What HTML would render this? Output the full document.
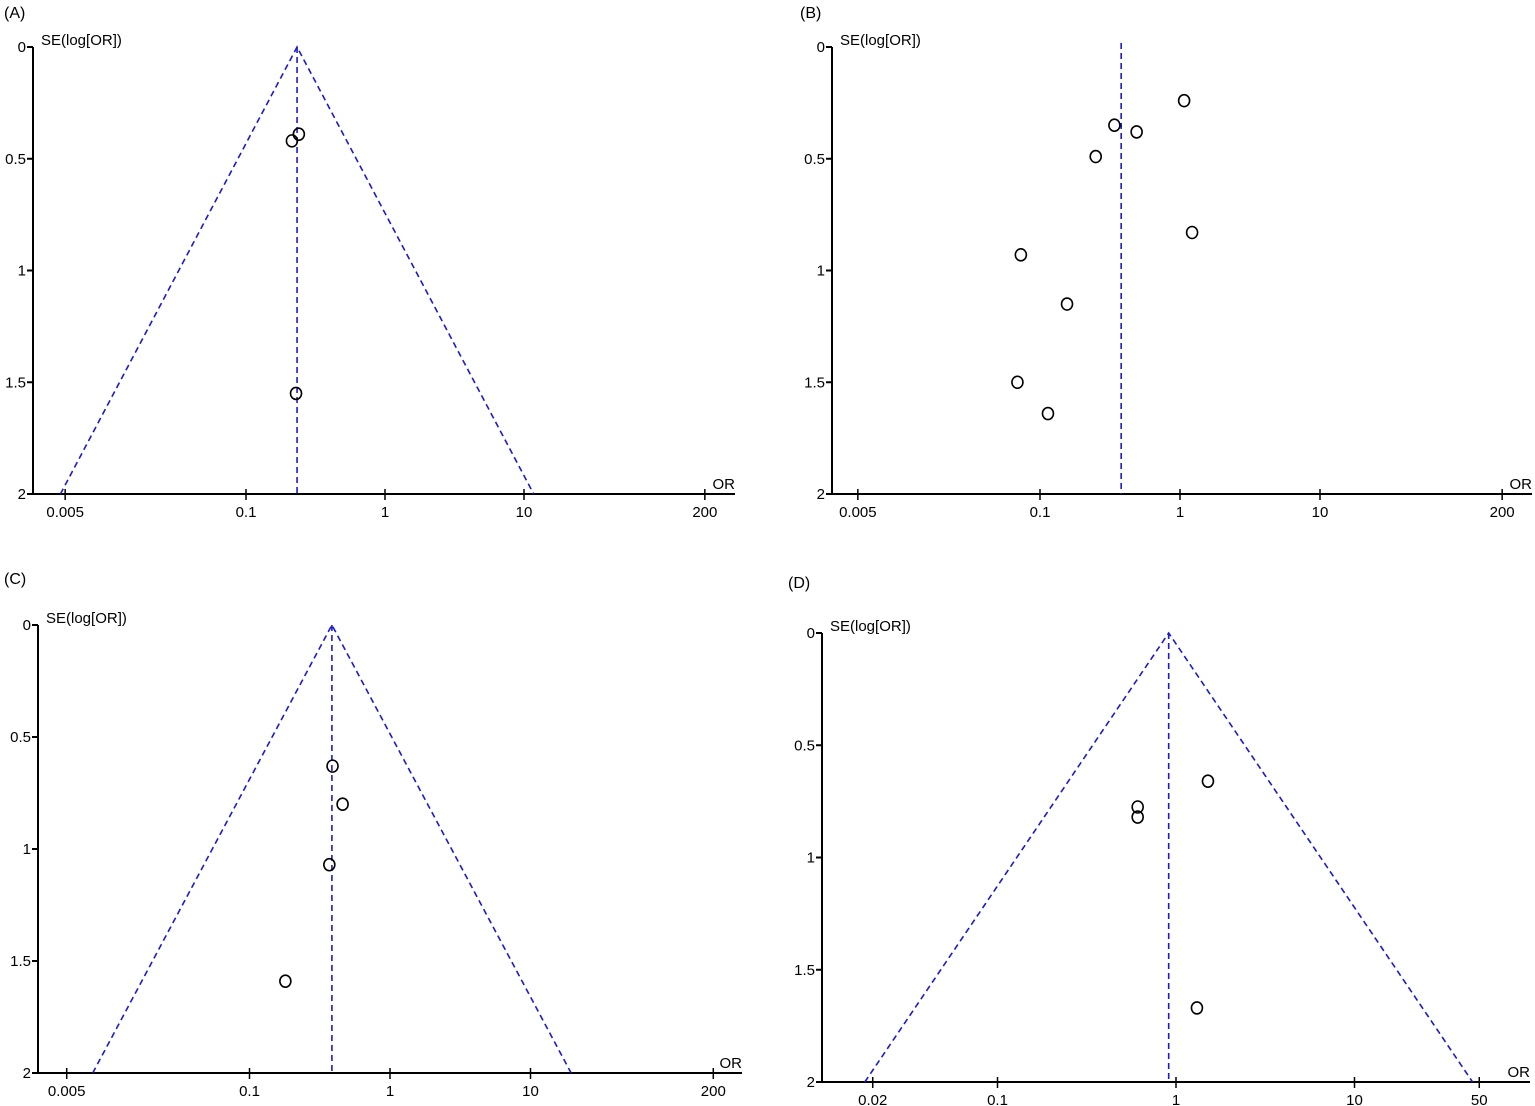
<!DOCTYPE html>
<html><head><meta charset="utf-8"><style>
html,body{margin:0;padding:0;background:#fff;}
svg{display:block;font-family:"Liberation Sans",Arial,sans-serif;}
</style></head><body>
<svg id="fig" width="1535" height="1106" viewBox="0 0 1535 1106" xmlns="http://www.w3.org/2000/svg"></svg>
<script>
// Panel A data
const aOR = [0.214, 0.240, 0.229];
const aSE = [0.42, 0.39, 1.55];
const aPooled = 0.233;
// Panel B data
const bOR = [1.07, 0.34, 0.49, 0.25, 1.22, 0.073, 0.156, 0.069, 0.114];
const bSE = [0.24, 0.35, 0.38, 0.49, 0.83, 0.93, 1.15, 1.50, 1.64];
const bPooled = 0.38;
// Panel C data
const cOR = [0.39, 0.46, 0.37, 0.18];
const cSE = [0.63, 0.80, 1.07, 1.59];
const cPooled = 0.386;
// Panel D data
const dOR = [1.51, 0.61, 0.61, 1.31];
const dSE = [0.66, 0.775, 0.82, 1.67];
const dPooled = 0.91;
// tick labels
const xTicksABC = [0.005, 0.1, 1, 10, 200];
const xTicksD = [0.02, 0.1, 1, 10, 50];
const yTicks = [0, 0.5, 1, 1.5, 2];
const yTickLabels = ["0", "0.5", "1", "1.5", "2"];

const NS = "http://www.w3.org/2000/svg";
const svg = document.getElementById("fig");
function mk(tag, attrs, parent) {
  const e = document.createElementNS(NS, tag);
  for (const k in attrs) e.setAttribute(k, attrs[k]);
  parent.appendChild(e);
  return e;
}
function panel(cfg) {
  const g = mk("g", {}, svg);
  
  
  const xs = v => cfg.x1 + Math.log10(v) * cfg.dec;
  const ys = s => cfg.y0 + s * (cfg.y2 - cfg.y0) / 2;
  const t = mk("text", {x: cfg.lx, y: cfg.ly, "font-size": 16, fill: "#000"}, g);
  t.textContent = "(" + cfg.id.toUpperCase() + ")";
  
  
  const ya = mk("line", {x1: cfg.ax, y1: cfg.y0, x2: cfg.ax, y2: cfg.y2, stroke: "#000", "stroke-width": 2}, g);
  
  
  const xa = mk("line", {x1: cfg.ax, y1: cfg.y2, x2: cfg.xend, y2: cfg.y2, stroke: "#000", "stroke-width": 2}, g);
  
  
  yTicks.forEach((v, i) => {
    mk("line", {x1: cfg.ax - 6, y1: ys(v), x2: cfg.ax, y2: ys(v), stroke: "#000", "stroke-width": 2}, g);
    const l = mk("text", {x: cfg.ax - 7, y: ys(v) + 5, "font-size": 15, "text-anchor": "end"}, g);
    l.textContent = yTickLabels[i];
    
    
  });
  cfg.xt.forEach(v => {
    mk("line", {x1: xs(v), y1: cfg.y2 - 5, x2: xs(v), y2: cfg.y2 + 6, stroke: "#000", "stroke-width": 1.5}, g);
    const l = mk("text", {x: xs(v), y: cfg.y2 + 23, "font-size": 15, "text-anchor": "middle"}, g);
    l.textContent = String(v);
    
    
  });
  const yt = mk("text", {x: cfg.ax + 8, y: cfg.y0 - 2, "font-size": 15}, g);
  yt.textContent = "SE(log[OR])";
  
  
  const xt = mk("text", {x: cfg.xend, y: cfg.y2 - 5, "font-size": 15, "text-anchor": "end"}, g);
  xt.textContent = "OR";
  
  
  const px = xs(cfg.pooled);
  const dash = {stroke: "#1a1ad0", "stroke-width": 1.6, "stroke-dasharray": "6,4", fill: "none"};
  const pl = mk("line", Object.assign({x1: px, y1: cfg.funnel ? cfg.y0 : cfg.y0 - 4, x2: px, y2: cfg.y2}, dash), g);
  
  
  if (cfg.funnel) {
    const lo = cfg.pooled * Math.pow(10, -1.96 * 2 / Math.LN10);
    const hi = cfg.pooled * Math.pow(10, 1.96 * 2 / Math.LN10);
    const f = mk("polyline", Object.assign({points: xs(lo) + "," + ys(2) + " " + px + "," + ys(0) + " " + xs(hi) + "," + ys(2)}, dash), g);
    
    
  }
  cfg.or.forEach((v, i) => {
    const c = mk("ellipse", {cx: xs(v), cy: ys(cfg.se[i]), rx: 5.5, ry: 6, fill: "none", stroke: "#000", "stroke-width": 1.6}, g);
    
    
  });
}
panel({id: "a", lx: 4, ly: 18, ax: 33, y0: 47, y2: 494, xend: 735, x1: 385, dec: 139, xt: xTicksABC, or: aOR, se: aSE, pooled: aPooled, funnel: true});
panel({id: "b", lx: 800, ly: 18, ax: 832, y0: 47, y2: 494, xend: 1532, x1: 1180, dec: 140, xt: xTicksABC, or: bOR, se: bSE, pooled: bPooled, funnel: false});
panel({id: "c", lx: 4, ly: 584, ax: 38, y0: 625, y2: 1073, xend: 742, x1: 390, dec: 140.5, xt: xTicksABC, or: cOR, se: cSE, pooled: cPooled, funnel: true});
panel({id: "d", lx: 788, ly: 588, ax: 822, y0: 633, y2: 1082, xend: 1530, x1: 1176, dec: 178.5, xt: xTicksD, or: dOR, se: dSE, pooled: dPooled, funnel: true});
</script>
</body></html>
